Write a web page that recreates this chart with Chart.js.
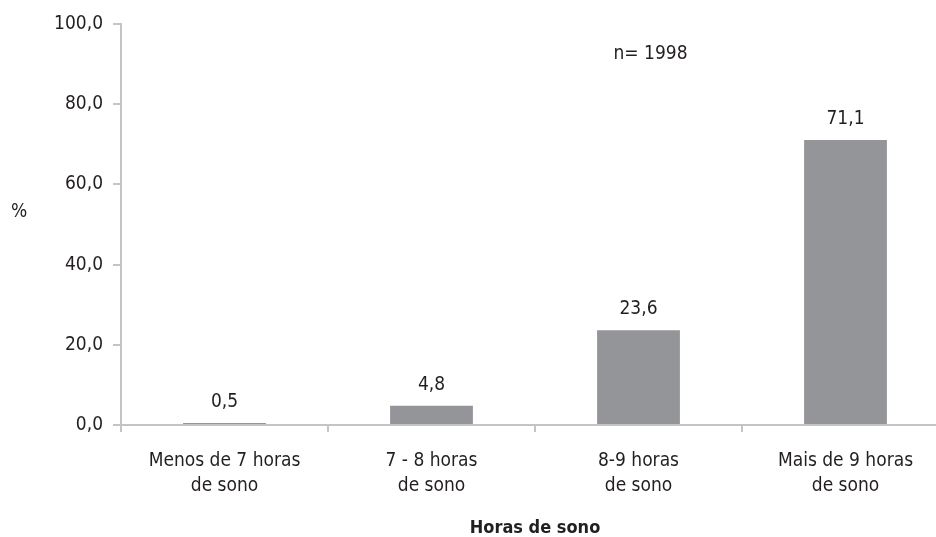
<!DOCTYPE html>
<html>
<head>
<meta charset="utf-8">
<script src="https://cdn.jsdelivr.net/npm/chart.js@4"></script>
<style>
  html, body { margin: 0; padding: 0; background: #fff; overflow: hidden; }
  #wrap { width: 960px; height: 537px; }
</style>
</head>
<body>
<div id="wrap"><canvas id="myChart" width="960" height="537"></canvas></div>
<script>
var categorias = [['Menos de 7 horas', 'de sono'], ['7 - 8 horas', 'de sono'], ['8-9 horas', 'de sono'], ['Mais de 9 horas', 'de sono']];
var percentuais = [0.5, 4.8, 23.6, 71.1];
var rotulosY = ['0,0', '20,0', '40,0', '60,0', '80,0', '100,0'];
var amostra = 'n= 1998';

var fonte = "'Liberation Sans Narrow', 'DejaVu Sans Condensed', 'Arial Narrow', sans-serif";
var corTexto = '#231f20';
var corEixo = '#c4c4c6';

function virgula(v) {
    return v.toFixed(1).replace('.', ',');
}

// rótulos dos valores, o "%" e o "n="
var extras = {
    id: 'extras',
    afterDatasetsDraw: function (chart) {
        var ctx = chart.ctx;
        var meta = chart.getDatasetMeta(0);
        ctx.save();
        ctx.fillStyle = corTexto;
        ctx.font = '19px ' + fonte;
        ctx.textAlign = 'center';
        ctx.textBaseline = 'middle';
        meta.data.forEach(function (bar, i) {
            ctx.fillText(virgula(percentuais[i]), bar.x, bar.y - 21);
        });
        ctx.textAlign = 'left';
        ctx.fillText(amostra, chart.scales.x.getPixelForValue(2) - 25, chart.scales.y.getPixelForValue(92.5));
        ctx.fillText('%', 11, chart.scales.y.getPixelForValue(53));
        ctx.restore();
    }
};

var ctx = document.getElementById('myChart').getContext('2d');
var chart = new Chart(ctx, {
    type: 'bar',
    data: {
        labels: categorias,
        datasets: [{
            data: percentuais,
            backgroundColor: '#939598',
            barPercentage: 0.4,
            categoryPercentage: 1.0
        }]
    },
    options: {
        responsive: false,
        animation: false,
        layout: { padding: { top: 24, left: 0, right: 11, bottom: 0 } },
        plugins: {
            legend: { display: false },
            tooltip: { enabled: false }
        },
        scales: {
            x: {
                grid: { drawOnChartArea: false, color: corEixo, tickLength: 7, lineWidth: 2, offset: true },
                border: { color: corEixo, width: 2 },
                ticks: { color: corTexto, font: { family: fonte, size: 19, lineHeight: 1.3 }, padding: 17, maxRotation: 0 },
                title: {
                    display: true,
                    text: 'Horas de sono',
                    color: corTexto,
                    font: { family: fonte, size: 18, weight: 'bold', lineHeight: 1 },
                    padding: { top: 0, bottom: 0 }
                },
                afterFit: function (scale) { scale.height = 112; }
            },
            y: {
                min: 0,
                max: 100,
                grid: { drawOnChartArea: false, color: corEixo, tickLength: 8, lineWidth: 2 },
                border: { color: corEixo, width: 2 },
                ticks: {
                    stepSize: 20,
                    color: corTexto,
                    font: { family: fonte, size: 19 },
                    padding: 10,
                    callback: function (v) { return rotulosY[v / 20]; }
                },
                afterFit: function (scale) { scale.width = 121; }
            }
        }
    },
    plugins: [extras]
});
</script>
</body>
</html>
